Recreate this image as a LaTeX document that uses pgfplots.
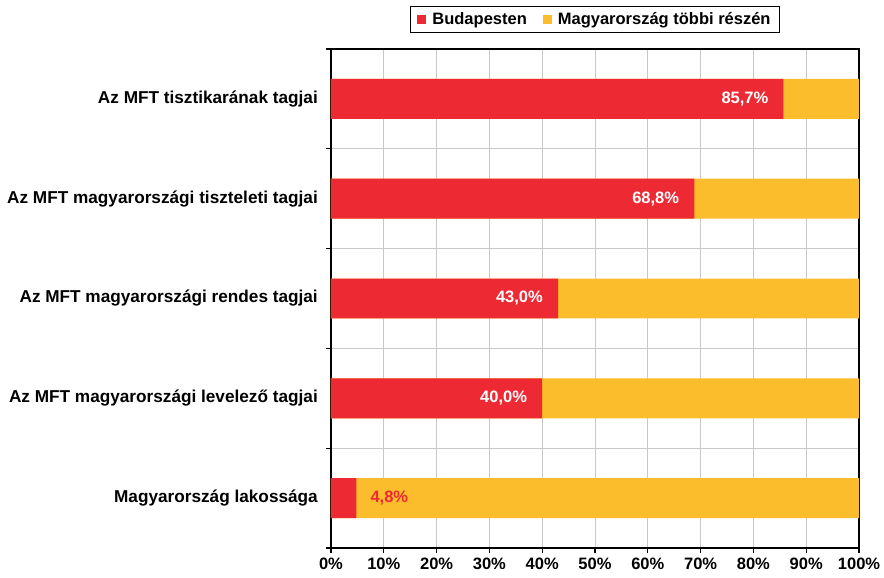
\documentclass[border=0pt]{standalone}
\usepackage{fontspec}
\setmainfont{Liberation Sans}
\usepackage{pgfplots}
\pgfplotsset{compat=1.18}
\definecolor{bred}{RGB}{237,42,52}
\definecolor{byel}{RGB}{251,189,44}
\definecolor{gridc}{RGB}{200,200,200}
\begin{document}
\begin{tikzpicture}
\useasboundingbox (0,0) rectangle (884pt,578pt);
\begin{axis}[
  at={(331pt,30pt)}, anchor=south west,
  scale only axis, width=528pt, height=499pt,
  xbar, bar width=0.4, bar shift=0pt,
  xmin=0, xmax=100, ymin=-0.5, ymax=4.5,
  axis line style={line width=1.2pt, black},
  xtick={0,10,...,100},
  xticklabels={0\%,10\%,20\%,30\%,40\%,50\%,60\%,70\%,80\%,90\%,100\%},
  ytick={0,1,2,3,4},
  yticklabels={Magyarország lakossága, Az MFT magyarországi levelező tagjai, Az MFT magyarországi rendes tagjai, Az MFT magyarországi tiszteleti tagjai, Az MFT tisztikarának tagjai},
  minor ytick={-0.5,0.5,1.5,2.5,3.5,4.5},
  xmajorgrids, yminorgrids,
  major grid style={gridc, line width=1pt},
  minor grid style={gridc, line width=1pt},
  tick align=outside, major tick length=5pt, minor tick length=5pt,
  xtick pos=left, ytick pos=left,
  tick style={black, line width=1.2pt},
  major y tick style={draw=none},
  /pgf/number format/assume math mode=true,
  xticklabel style={font=\bfseries\fontsize{16.5}{18}\selectfont, inner sep=0pt, yshift=-5pt},
  yticklabel style={font=\bfseries\fontsize{17.2}{19}\selectfont, inner sep=0pt, xshift=-8pt},
  legend style={at={(0.5,1.059)}, anchor=center, draw=black, line width=1.2pt,
    font=\bfseries\fontsize{16.5}{18}\selectfont, legend columns=2,
    inner xsep=7pt, inner ysep=4pt,
    /tikz/every odd column/.append style={column sep=4pt},
    /tikz/every even column/.append style={column sep=14pt}},
  legend image code/.code={\fill[#1,draw=none] (0pt,-4.5pt) rectangle (9pt,4.5pt);},
  legend cell align=left,
]
\addplot[fill=byel, draw=none, forget plot] table[x=x, y=y] {
x y
100 4
100 3
100 2
100 1
100 0
};
\addplot[fill=bred, draw=none,
  point meta=explicit symbolic,
  visualization depends on={value \thisrow{anc} \as \myanc},
  visualization depends on={value \thisrow{sh} \as \mysh},
  visualization depends on={value \thisrow{col} \as \mycol},
  nodes near coords,
  nodes near coords style={anchor=\myanc, xshift=\mysh pt, text=\mycol, inner sep=0pt,
    font=\bfseries\fontsize{16.5}{18}\selectfont},
] table[x=x, y=y, meta=lab] {
x y lab anc sh col
85.7 4 85,7\% east -15 white
68.8 3 68,8\% east -15 white
43.0 2 43,0\% east -15 white
40.0 1 40,0\% east -15 white
4.8 0 4,8\% west 14 bred
};
\addlegendentry{Budapesten}
\addlegendimage{fill=byel, draw=none}
\addlegendentry{Magyarország többi részén}
\end{axis}
\end{tikzpicture}
\end{document}
